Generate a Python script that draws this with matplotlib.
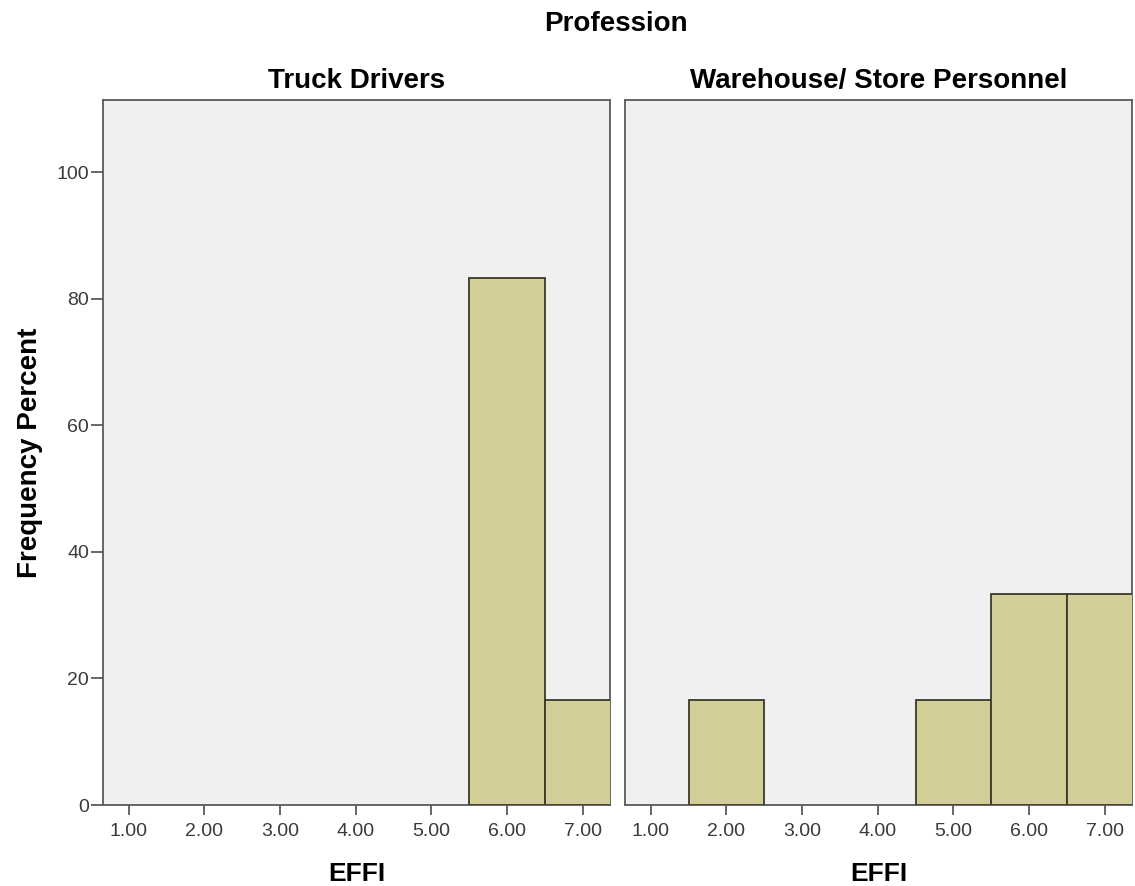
import matplotlib.pyplot as plt
from matplotlib.ticker import FixedLocator

plt.rcParams['font.family'] = ['Liberation Sans', 'DejaVu Sans']

# EFFI score categories and percent frequency per profession
effi_values = [1, 2, 3, 4, 5, 6, 7]
effi_labels = ['1.00', '2.00', '3.00', '4.00', '5.00', '6.00', '7.00']
truck_pct = [0, 0, 0, 0, 0, 83.33, 16.67]
warehouse_pct = [0, 16.67, 0, 0, 16.67, 33.33, 33.33]
panel_titles = ['Truck Drivers', 'Warehouse/ Store Personnel']

BAR_COLOR = '#D3CE98'
EDGE_COLOR = '#3A3A2A'
PANEL_BG = '#F0F0F0'
SPINE_COLOR = '#5A5A5A'
TICK_TEXT = '#3A3A3A'

fig = plt.figure(figsize=(11.35, 8.86), dpi=100)
ax1 = fig.add_axes([0.0907, 0.0914, 0.4467, 0.7957])
ax2 = fig.add_axes([0.5507, 0.0914, 0.4467, 0.7957])

for ax, pct, title in zip([ax1, ax2], [truck_pct, warehouse_pct], panel_titles):
    ax.set_facecolor(PANEL_BG)
    vals = [v for v, p in zip(effi_values, pct) if p > 0]
    heights = [p for p in pct if p > 0]
    ax.bar(vals, heights, width=1.0, color=BAR_COLOR, edgecolor=EDGE_COLOR,
           linewidth=1.3, zorder=3)
    ax.set_xlim(0.66, 7.36)
    ax.set_ylim(0, 111.4)
    ax.xaxis.set_major_locator(FixedLocator(effi_values))
    ax.set_xticklabels(effi_labels, fontsize=14, color=TICK_TEXT)
    ax.tick_params(axis='x', direction='out', length=7, width=1.3,
                   color=SPINE_COLOR, pad=6)
    for s in ax.spines.values():
        s.set_color(SPINE_COLOR)
        s.set_linewidth(1.3)
    ax.set_title(title, fontsize=20, fontweight='bold', pad=9)
    ax.set_xlabel('EFFI', fontsize=19, fontweight='bold', labelpad=16)

ax1.set_yticks([0, 20, 40, 60, 80, 100])
ax1.tick_params(axis='y', direction='out', length=9, width=1.3,
                color=SPINE_COLOR, labelsize=14, labelcolor=TICK_TEXT, pad=1)
ax1.set_ylabel('Frequency Percent', fontsize=20, fontweight='bold', labelpad=10)
ax2.set_yticks([])

fig.text(0.5426, 0.973, 'Profession', ha='center', va='center',
         fontsize=20, fontweight='bold')

fig.savefig('out.png', dpi=100, facecolor='white')
